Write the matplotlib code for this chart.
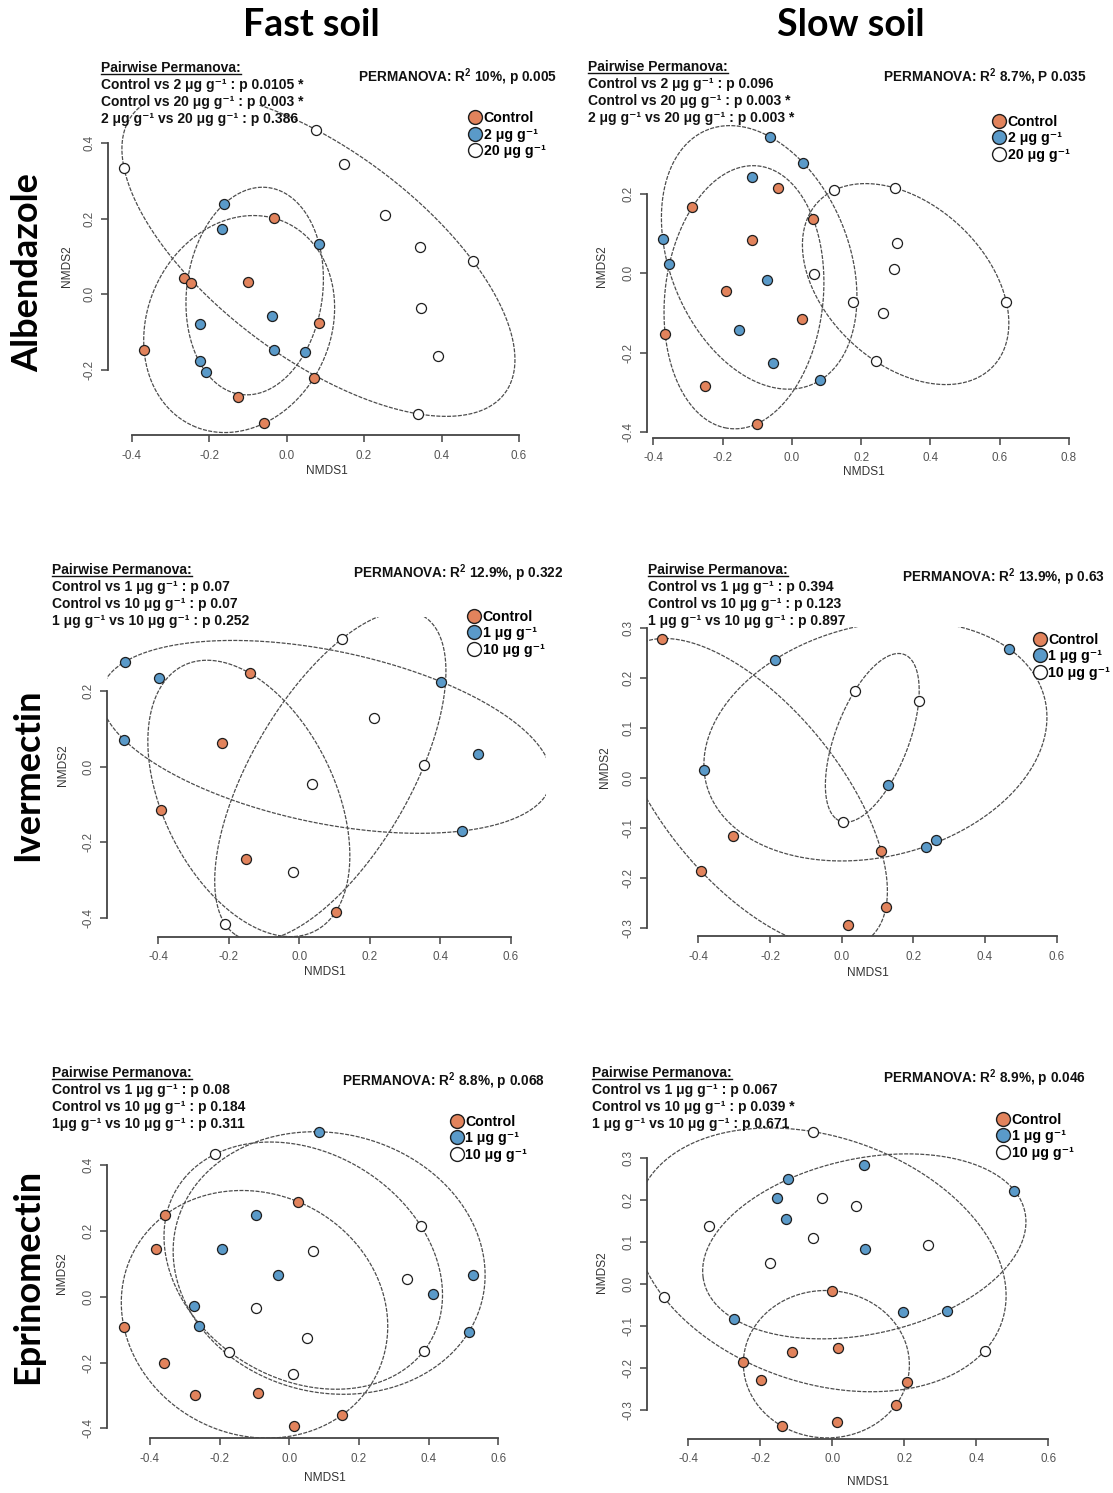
import numpy as np
import matplotlib
matplotlib.use("Agg")
import matplotlib.pyplot as plt
from matplotlib.lines import Line2D

plt.rcParams['font.family'] = ['Liberation Sans', 'DejaVu Sans']
plt.rcParams['mathtext.fontset'] = 'custom'
plt.rcParams['mathtext.rm'] = 'Liberation Sans'
plt.rcParams['mathtext.bf'] = 'Liberation Sans:bold'
plt.rcParams['axes.unicode_minus'] = False

W, H, DPI = 1113, 1493, 100

# ---------------- NMDS scores (NMDS1, NMDS2) ----------------
# Albendazole, fast soil
alb_fast_control = [(-0.265, 0.044), (-0.247, 0.031), (-0.099, 0.033), (-0.032, 0.201), (-0.368, -0.147),
                    (-0.126, -0.272), (-0.058, -0.341), (0.083, -0.075), (0.070, -0.222)]
alb_fast_2ug = [(-0.161, 0.239), (-0.167, 0.172), (0.084, 0.133), (-0.224, -0.078), (-0.037, -0.057),
                (-0.033, -0.147), (0.048, -0.153), (-0.223, -0.176), (-0.209, -0.205)]
alb_fast_20ug = [(-0.420, 0.335), (0.076, 0.435), (0.149, 0.345), (0.253, 0.210), (0.344, 0.125),
                 (0.482, 0.087), (0.347, -0.037), (0.391, -0.162), (0.339, -0.316)]

# Albendazole, slow soil
alb_slow_control = [(-0.288, 0.166), (-0.040, 0.216), (0.062, 0.136), (-0.114, 0.085), (-0.190, -0.044),
                    (0.028, -0.114), (-0.366, -0.152), (-0.251, -0.285), (-0.100, -0.379)]
alb_slow_2ug = [(-0.063, 0.344), (0.033, 0.278), (-0.114, 0.243), (-0.373, 0.087), (-0.355, 0.023),
                (-0.073, -0.016), (-0.153, -0.142), (-0.055, -0.225), (0.081, -0.270)]
alb_slow_20ug = [(0.121, 0.209), (0.298, 0.215), (0.302, 0.077), (0.294, 0.012), (0.175, -0.072),
                 (0.619, -0.072), (0.264, -0.100), (0.242, -0.222), (0.063, -0.003)]

# Ivermectin, fast soil
iver_fast_control = [(-0.140, 0.247), (-0.220, 0.063), (-0.393, -0.115), (-0.152, -0.244), (0.103, -0.384)]
iver_fast_1ug = [(-0.494, 0.278), (-0.398, 0.235), (-0.497, 0.071), (0.401, 0.225), (0.505, 0.034),
                 (0.462, -0.170)]
iver_fast_10ug = [(-0.211, -0.416), (-0.017, -0.279), (0.037, -0.046), (0.212, 0.130), (0.354, 0.004),
                  (0.120, 0.338)]

# Ivermectin, slow soil
iver_slow_control = [(-0.501, 0.279), (-0.304, -0.116), (-0.393, -0.186), (0.018, -0.294), (0.110, -0.145),
                     (0.124, -0.257)]
iver_slow_1ug = [(-0.186, 0.237), (-0.384, 0.016), (0.468, 0.258), (0.128, -0.014), (0.234, -0.137),
                 (0.263, -0.123)]
iver_slow_10ug = [(0.036, 0.174), (0.215, 0.155), (0.005, -0.088)]

# Eprinomectin, fast soil
epri_fast_control = [(-0.357, 0.248), (-0.384, 0.144), (-0.475, -0.091), (-0.360, -0.202), (-0.271, -0.299),
                     (-0.089, -0.293), (0.013, -0.392), (0.024, 0.289), (0.152, -0.359)]
epri_fast_1ug = [(-0.097, 0.248), (-0.194, 0.144), (-0.033, 0.066), (-0.274, -0.027), (-0.258, -0.088),
                 (0.085, 0.501), (0.528, 0.066), (0.412, 0.007), (0.516, -0.106)]
epri_fast_10ug = [(-0.213, 0.433), (-0.096, -0.035), (-0.173, -0.167), (0.011, -0.236), (0.051, -0.126),
                  (0.067, 0.139), (0.337, 0.053), (0.377, 0.216), (0.387, -0.164)]

# Eprinomectin, slow soil
epri_slow_control = [(0.000, -0.016), (0.015, -0.153), (-0.111, -0.162), (-0.247, -0.186), (-0.199, -0.228),
                     (-0.141, -0.337), (0.012, -0.327), (0.208, -0.232), (0.177, -0.287)]
epri_slow_1ug = [(-0.122, 0.249), (-0.154, 0.204), (-0.129, 0.154), (-0.273, -0.083), (0.089, 0.283),
                 (0.091, 0.082), (0.506, 0.222), (0.197, -0.066), (0.318, -0.063)]
epri_slow_10ug = [(-0.054, 0.362), (-0.342, 0.138), (-0.028, 0.204), (-0.053, 0.110), (-0.173, 0.051),
                  (-0.468, -0.032), (0.066, 0.185), (0.267, 0.093), (0.424, -0.158)]

# ---------------- labels and statistics ----------------
alb_groups = ['Control', '2 μg g⁻¹', '20 μg g⁻¹']
avm_groups = ['Control', '1 μg g⁻¹', '10 μg g⁻¹']

alb_fast_pairwise = ['Control vs 2 μg g⁻¹ : p 0.0105 *', 'Control vs 20 μg g⁻¹ : p 0.003 *',
                     '2 μg g⁻¹ vs 20 μg g⁻¹ : p 0.386']
alb_slow_pairwise = ['Control vs 2 μg g⁻¹ : p 0.096', 'Control vs 20 μg g⁻¹ : p 0.003 *',
                     '2 μg g⁻¹ vs 20 μg g⁻¹ : p 0.003 *']
iver_fast_pairwise = ['Control vs 1 μg g⁻¹ : p 0.07', 'Control vs 10 μg g⁻¹ : p 0.07',
                      '1 μg g⁻¹ vs 10 μg g⁻¹ : p 0.252']
iver_slow_pairwise = ['Control vs 1 μg g⁻¹ : p 0.394', 'Control vs 10 μg g⁻¹ : p 0.123',
                      '1 μg g⁻¹ vs 10 μg g⁻¹ : p 0.897']
epri_fast_pairwise = ['Control vs 1 μg g⁻¹ : p 0.08', 'Control vs 10 μg g⁻¹ : p 0.184',
                      '1μg g⁻¹ vs 10 μg g⁻¹ : p 0.311']
epri_slow_pairwise = ['Control vs 1 μg g⁻¹ : p 0.067', 'Control vs 10 μg g⁻¹ : p 0.039 *',
                      '1 μg g⁻¹ vs 10 μg g⁻¹ : p 0.671']

permanova = [r'PERMANOVA: R$^{\mathbf{2}}$ 10%, p 0.005', r'PERMANOVA: R$^{\mathbf{2}}$ 8.7%, P 0.035',
             r'PERMANOVA: R$^{\mathbf{2}}$ 12.9%, p 0.322', r'PERMANOVA: R$^{\mathbf{2}}$ 13.9%, p 0.63',
             r'PERMANOVA: R$^{\mathbf{2}}$ 8.8%, p 0.068', r'PERMANOVA: R$^{\mathbf{2}}$ 8.9%, p 0.046']

col_titles = ['Fast soil', 'Slow soil']
row_titles = ['Albendazole', 'Ivermectin', 'Eprinomectin']

x_ticks_std = [-0.4, -0.2, 0.0, 0.2, 0.4, 0.6]
x_ticks_wide = [-0.4, -0.2, 0.0, 0.2, 0.4, 0.6, 0.8]
y_ticks_a = [-0.2, 0.0, 0.2, 0.4]
y_ticks_b = [-0.4, -0.2, 0.0, 0.2]
y_ticks_c = [-0.4, -0.2, 0.0, 0.2, 0.4]
y_ticks_d = [-0.3, -0.2, -0.1, 0.0, 0.1, 0.2, 0.3]

CONTROL_COLOR = '#E2835C'
LOW_COLOR = '#5A9AC9'
HIGH_COLOR = '#FFFFFF'
EDGE = '#1e1e1e'

# ---------------- panel layout (pixel geometry) ----------------
# scale = (px per unit x, px of x=0, px per unit y, px of y=0)
panels = [
    dict(groups=(alb_fast_control, alb_fast_2ug, alb_fast_20ug), names=alb_groups, pair=alb_fast_pairwise,
         perm=permanova[0], scale=(387.3, 286.6, 378.3, 294.3), xlim=(-0.46, 0.70), ylim=(-0.372, 0.50),
         xt=x_ticks_std, yt=y_ticks_a, pair_xy=(101, 68), perm_xy=(358, 76.7),
         leg=(475, 118.3), xlab=(326.7, 471), ylab=(67, 266)),
    dict(groups=(alb_slow_control, alb_slow_2ug, alb_slow_20ug), names=alb_groups, pair=alb_slow_pairwise,
         perm=permanova[1], scale=(346.4, 791.9, 396.7, 273.3), xlim=(-0.419, 0.86), ylim=(-0.414, 0.45),
         xt=x_ticks_wide, yt=y_ticks_b, pair_xy=(588, 67), perm_xy=(883, 76.7),
         leg=(999, 121.7), xlab=(864, 472), ylab=(602, 266)),
    dict(groups=(iver_fast_control, iver_fast_1ug, iver_fast_10ug), names=avm_groups, pair=iver_fast_pairwise,
         perm=permanova[2], scale=(352.7, 299.4, 378.0, 766.7), xlim=(-0.546, 0.70), ylim=(-0.450, 0.396),
         xt=x_ticks_std, yt=y_ticks_b, pair_xy=(52, 570), perm_xy=(353, 573.3),
         leg=(474.3, 616.7), xlab=(325, 972), ylab=(63, 765)),
    dict(groups=(iver_slow_control, iver_slow_1ug, iver_slow_10ug), names=avm_groups, pair=iver_slow_pairwise,
         perm=permanova[3], scale=(358.4, 841.7, 500.0, 778.0), xlim=(-0.544, 0.70), ylim=(-0.317, 0.302),
         xt=x_ticks_std, yt=y_ticks_d, pair_xy=(648, 570), perm_xy=(902, 577),
         leg=(1040, 640), xlab=(867.5, 973), ylab=(605, 767)),
    dict(groups=(epri_fast_control, epri_fast_1ug, epri_fast_10ug), names=avm_groups, pair=epri_fast_pairwise,
         perm=permanova[4], scale=(348.3, 289.3, 329.2, 1296.7), xlim=(-0.524, 0.73), ylim=(-0.430, 0.55),
         xt=x_ticks_std, yt=y_ticks_c, pair_xy=(52, 1073.3), perm_xy=(342, 1081.7),
         leg=(456.7, 1121.7), xlab=(325, 1478), ylab=(62, 1273)),
    dict(groups=(epri_slow_control, epri_slow_1ug, epri_slow_10ug), names=avm_groups, pair=epri_slow_pairwise,
         perm=permanova[5], scale=(360.0, 832.3, 421.0, 1284.0), xlim=(-0.516, 0.72), ylim=(-0.367, 0.40),
         xt=x_ticks_std, yt=y_ticks_d, pair_xy=(592, 1073.3), perm_xy=(883, 1078.3),
         leg=(1003.3, 1120), xlab=(868, 1482), ylab=(602, 1272)),
]


def mvee(points, tol=1e-8, max_iter=200000):
    """Minimum-volume enclosing ellipse (Khachiyan), returns centre and shape matrix."""
    P = np.asarray(points, float)
    n, d = P.shape
    Q = np.vstack([P.T, np.ones(n)])
    u = np.full(n, 1.0 / n)
    for _ in range(max_iter):
        X = Q @ (u[:, None] * Q.T)
        M = np.einsum('ij,ji->i', Q.T @ np.linalg.inv(X), Q)
        j = int(np.argmax(M))
        step = (M[j] - d - 1) / ((d + 1) * (M[j] - 1))
        new_u = (1 - step) * u
        new_u[j] += step
        if np.linalg.norm(new_u - u) < tol:
            u = new_u
            break
        u = new_u
    c = P.T @ u
    S = P.T @ (u[:, None] * P) - np.outer(c, c)
    A = np.linalg.inv(S) / d
    return c, A


def hull_ellipse(points, n=500):
    c, A = mvee(points)
    w, V = np.linalg.eigh(A)
    t = np.linspace(0, 2 * np.pi, n)
    circ = np.vstack([np.cos(t), np.sin(t)]) / np.sqrt(w)[:, None]
    xy = c[:, None] + V @ circ
    return xy[0], xy[1]


def fx(px):
    return px / W


def fy(py):
    return 1 - py / H


fig = plt.figure(figsize=(W / DPI, H / DPI), dpi=DPI)
fig.patch.set_facecolor('white')

colors = (CONTROL_COLOR, LOW_COLOR, HIGH_COLOR)
underline_targets = []

LEG_FS = 10.2
LEG_FS_PX = LEG_FS * DPI / 72

for p in panels:
    sx, x0, sy, y0 = p['scale']
    (xl, xr), (yb, yt) = p['xlim'], p['ylim']
    left, right = x0 + xl * sx, x0 + xr * sx
    bottom, top = y0 - yb * sy, y0 - yt * sy
    ax = fig.add_axes([left / W, 1 - bottom / H, (right - left) / W, (bottom - top) / H])
    ax.set_xlim(xl, xr)
    ax.set_ylim(yb, yt)
    ax.patch.set_alpha(0)

    # ellipsoid hulls
    for pts in p['groups']:
        ex, ey = hull_ellipse(pts)
        ax.plot(ex, ey, color='#4d4d4d', lw=0.9, ls=(0, (3.2, 1.1)), zorder=2)
    # sample scores
    for pts, col in zip(p['groups'], colors):
        arr = np.asarray(pts)
        ax.scatter(arr[:, 0], arr[:, 1], s=52, c=col, edgecolors=EDGE, linewidths=0.9,
                   zorder=3, clip_on=False)

    # R-style axes
    for s in ('top', 'right'):
        ax.spines[s].set_visible(False)
    for s in ('left', 'bottom'):
        ax.spines[s].set_color('#444444')
        ax.spines[s].set_linewidth(1.3)
    ax.spines['bottom'].set_bounds(p['xt'][0], p['xt'][-1])
    ax.spines['left'].set_bounds(p['yt'][0], p['yt'][-1])
    ax.set_xticks(p['xt'])
    ax.set_xticklabels([f"{v:.1f}" for v in p['xt']])
    ax.set_yticks(p['yt'])
    ax.set_yticklabels([f"{v:.1f}" for v in p['yt']], rotation=90, va='center')
    ax.tick_params(axis='both', length=5, width=1.1, color='#444444', labelsize=8.4,
                   labelcolor='#555555')
    ax.tick_params(axis='x', pad=5.5)
    ax.tick_params(axis='y', pad=4)

    fig.text(fx(p['xlab'][0]), fy(p['xlab'][1]), 'NMDS1', ha='center', va='center',
             fontsize=8.6, color='#333333')
    fig.text(fx(p['ylab'][0]), fy(p['ylab'][1]), 'NMDS2', ha='center', va='center',
             rotation=90, fontsize=8.6, color='#333333')

    # legend
    handles = [Line2D([], [], ls='', marker='o', markersize=10, markerfacecolor=c,
                      markeredgecolor=EDGE, markeredgewidth=1.0) for c in colors]
    lx, ly = p['leg']
    hl = 0.9
    ax.legend(handles, p['names'], loc='upper left',
              bbox_to_anchor=(fx(lx - hl * LEG_FS_PX / 2), fy(ly - 7.0)), bbox_transform=fig.transFigure,
              frameon=False, borderpad=0, borderaxespad=0, handlelength=hl,
              handletextpad=0.15, labelspacing=0.17, prop=dict(weight='bold', size=LEG_FS))

    # statistics
    px_, py_ = p['pair_xy']
    t = fig.text(fx(px_), fy(py_), 'Pairwise Permanova:', ha='left', va='center',
                 fontsize=10, fontweight='bold', color='#111111')
    underline_targets.append(t)
    for k, line in enumerate(p['pair']):
        fig.text(fx(px_), fy(py_ + 16.9 * (k + 1)), line, ha='left', va='center',
                 fontsize=10, fontweight='bold', color='#111111')
    fig.text(fx(p['perm_xy'][0]), fy(p['perm_xy'][1]), p['perm'], ha='left', va='center',
             fontsize=9.8, fontweight='bold', color='#111111')

# column and row headings
for title, cx in zip(col_titles, (311, 851)):
    fig.text(fx(cx), fy(25), title, ha='center', va='center', fontsize=27,
             fontweight='bold', family=['Lato', 'DejaVu Sans'], color='#000000')
for title, cy in zip(row_titles, (273, 775, 1276)):
    fig.text(fx(28), fy(cy), title, ha='center', va='center', rotation=90, fontsize=26,
             fontweight='bold', family=['Lato', 'DejaVu Sans'], color='#000000')

# underline the "Pairwise Permanova:" headings
fig.canvas.draw()
renderer = fig.canvas.get_renderer()
for t in underline_targets:
    bb = t.get_window_extent(renderer)
    yline = bb.y0 + 1.5
    fig.add_artist(Line2D([bb.x0 / W, bb.x1 / W], [yline / H, yline / H],
                          transform=fig.transFigure, color='#111111', lw=1.0))

fig.savefig('out.png', dpi=DPI, facecolor='white')
